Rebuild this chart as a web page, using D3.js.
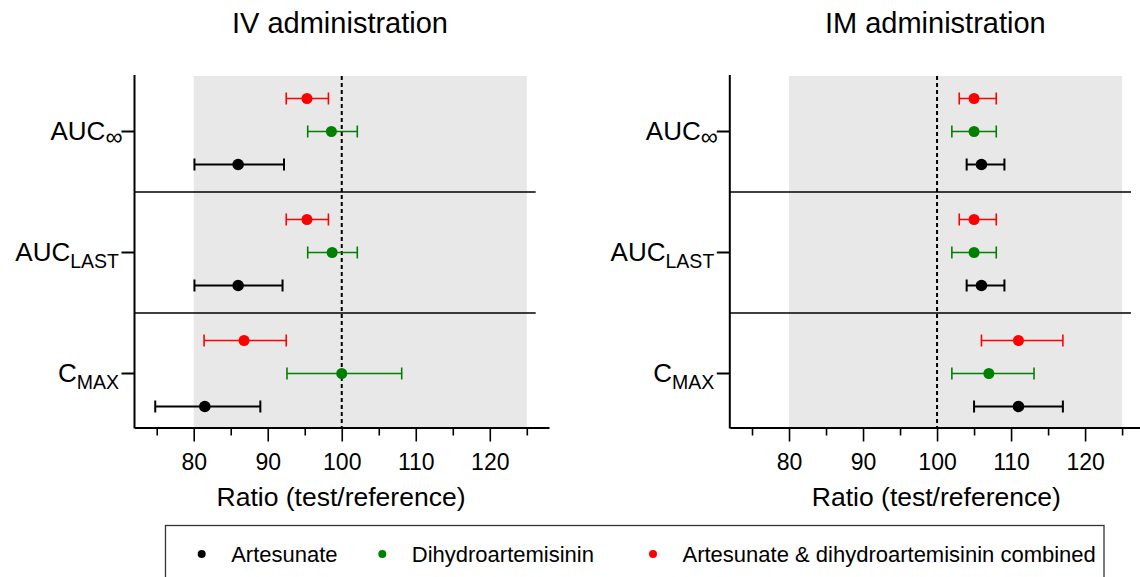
<!doctype html>
<html>
<body>
<style type="text/css">
    html,body{
        margin: 0;
        overflow: hidden;
        background: #fff;
    }
    svg text {
        font-family: "Liberation Sans", Arial, sans-serif;
        fill: #000;
    }
</style>
<script src="https://cdn.jsdelivr.net/npm/d3@7"></script>
<script type="text/javascript">
// parameters, top to bottom: [main text, subscript]
var params = ["AUCinf", "AUClast", "Cmax"];
var paramLabels = [["AUC", "\u221E"], ["AUC", "LAST"], ["C", "MAX"]];

var series = ["Artesunate", "Dihydroartemisinin", "Artesunate & dihydroartemisinin combined"];
var seriesColors = ["#000000", "#008000", "#ff0000"];

// [estimate, lower, upper] per parameter (AUCinf, AUClast, Cmax)
var ivArtesunate = [[86.0, 80.1, 92.2], [86.0, 80.1, 92.0], [81.5, 74.8, 89.0]];
var ivDHA        = [[98.6, 95.4, 102.1], [98.7, 95.4, 102.1], [100.0, 92.6, 108.1]];
var ivCombined   = [[95.3, 92.5, 98.2], [95.3, 92.5, 98.2], [86.8, 81.4, 92.5]];

var imArtesunate = [[106.0, 104.0, 109.1], [106.0, 104.0, 109.1], [111.0, 105.0, 117.0]];
var imDHA        = [[105.0, 102.0, 108.0], [105.0, 102.0, 108.0], [107.0, 102.0, 113.1]];
var imCombined   = [[105.0, 103.0, 108.0], [105.0, 103.0, 108.0], [111.0, 106.0, 117.0]];

var majorTicks = [80, 90, 100, 110, 120];
var minorTicks = [75, 85, 95, 105, 115, 125];

(function(){
    var w = 1140, h = 577;

    var svg = d3.select("body").append("svg")
        .attr("width", w)
        .attr("height", h);

    function drawPanel(off, title, sets) {
        var g = svg.append("g").attr("transform", "translate(" + off + ",0)");

        var x = d3.scaleLinear().domain([72, 128]).range([134.5, 549]);
        var y = d3.scaleBand().domain(params).range([71, 434]);
        // combined on top, artesunate at the bottom
        var row = d3.scalePoint().domain(series.slice().reverse()).range([-33, 33]);
        var axisY = 427.5;

        // equivalence band 80-125
        g.append("rect")
            .attr("x", x(80))
            .attr("y", 76)
            .attr("width", x(125) - x(80))
            .attr("height", axisY - 76)
            .attr("fill", "#e8e8e8");

        // separators between parameters
        g.selectAll("line.sep")
            .data(params.slice(1))
            .enter().append("line")
            .attr("class", "sep")
            .attr("x1", x.range()[0])
            .attr("x2", x(126.2))
            .attr("y1", function(d){return y(d)})
            .attr("y2", function(d){return y(d)})
            .attr("stroke", "#000")
            .attr("stroke-width", 1.6);

        // reference line at 100
        g.append("line")
            .attr("x1", x(100)).attr("x2", x(100))
            .attr("y1", 76).attr("y2", axisY)
            .attr("stroke", "#000")
            .attr("stroke-width", 2)
            .attr("stroke-dasharray", "4,3");

        // x axis
        var xAxis = g.append("g")
            .attr("transform", "translate(0," + axisY + ")")
            .call(d3.axisBottom(x).tickValues(majorTicks).tickSize(14).tickSizeOuter(0).tickPadding(12));
        xAxis.select(".domain").attr("stroke-width", 2);
        xAxis.selectAll(".tick line").attr("stroke-width", 1.6);
        xAxis.selectAll(".tick text")
            .attr("font-size", 23)
            .attr("font-family", "Liberation Sans, Arial, sans-serif");

        var xMinor = g.append("g")
            .attr("transform", "translate(0," + axisY + ")")
            .call(d3.axisBottom(x).tickValues(minorTicks).tickSize(8).tickFormat(""));
        xMinor.select(".domain").remove();
        xMinor.selectAll(".tick line").attr("stroke-width", 1.6);

        g.append("text")
            .attr("x", 341)
            .attr("y", 506)
            .attr("text-anchor", "middle")
            .attr("font-size", 26.5)
            .text("Ratio (test/reference)");

        // y axis
        var yAxis = g.append("g")
            .attr("transform", "translate(" + x.range()[0] + ",0)")
            .call(d3.axisLeft(y).tickSize(13).tickFormat(""));
        yAxis.select(".domain").remove();
        yAxis.selectAll(".tick line").attr("stroke-width", 2);
        g.append("line")
            .attr("x1", x.range()[0]).attr("x2", x.range()[0])
            .attr("y1", 75).attr("y2", axisY + 1)
            .attr("stroke", "#000")
            .attr("stroke-width", 2);

        var lab = g.selectAll("text.plab")
            .data(params)
            .enter().append("text")
            .attr("class", "plab")
            .attr("x", function(d, i){return x.range()[0] - (i === 0 ? 12 : 15.5)})
            .attr("y", function(d){return y(d) + y.bandwidth()/2 + 8.5})
            .attr("text-anchor", "end");
        lab.append("tspan")
            .attr("font-size", 26)
            .text(function(d, i){return paramLabels[i][0]});
        lab.append("tspan")
            .attr("font-size", function(d, i){return i === 0 ? 24 : 19.5})
            .attr("dy", function(d, i){return i === 0 ? 5 : 6.5})
            .text(function(d, i){return paramLabels[i][1]});

        // error bars and points
        sets.forEach(function(vals, si){
            var s = series[si], col = seriesColors[si];
            var sw = si === 0 ? 2 : 1.6;
            var pts = vals.map(function(v, pi){
                return {p: params[pi], est: v[0], lo: v[1], hi: v[2]};
            });
            var cy = function(d){return y(d.p) + y.bandwidth()/2 + row(s)};
            var eg = g.append("g");
            eg.selectAll("line.bar").data(pts).enter().append("line")
                .attr("x1", function(d){return x(d.lo)})
                .attr("x2", function(d){return x(d.hi)})
                .attr("y1", cy).attr("y2", cy)
                .attr("stroke", col).attr("stroke-width", sw);
            ["lo", "hi"].forEach(function(k){
                eg.selectAll("line.cap" + k).data(pts).enter().append("line")
                    .attr("x1", function(d){return x(d[k])})
                    .attr("x2", function(d){return x(d[k])})
                    .attr("y1", function(d){return cy(d) - 6})
                    .attr("y2", function(d){return cy(d) + 6})
                    .attr("stroke", col).attr("stroke-width", sw);
            });
            eg.selectAll("circle").data(pts).enter().append("circle")
                .attr("cx", function(d){return x(d.est)})
                .attr("cy", cy)
                .attr("r", si === 0 ? 5.8 : 5.5)
                .attr("fill", col);
        });

        g.append("text")
            .attr("x", 340)
            .attr("y", 33)
            .attr("text-anchor", "middle")
            .attr("font-size", 29)
            .text(title);
    }

    drawPanel(0, "IV administration", [ivArtesunate, ivDHA, ivCombined]);
    drawPanel(595.3, "IM administration", [imArtesunate, imDHA, imCombined]);

    // legend
    var legX = [201.7, 382.3, 653];
    svg.append("rect")
        .attr("x", 165.5).attr("y", 525.5)
        .attr("width", 1104 - 165.5).attr("height", 80)
        .attr("fill", "none")
        .attr("stroke", "#333")
        .attr("stroke-width", 1.3);
    var leg = svg.selectAll("g.leg")
        .data(series)
        .enter().append("g")
        .attr("class", "leg")
        .attr("transform", function(d, i){return "translate(" + legX[i] + ",554)"});
    leg.append("circle")
        .attr("r", 4)
        .attr("fill", function(d, i){return seriesColors[i]});
    leg.append("text")
        .attr("x", 29.5)
        .attr("y", 8)
        .attr("font-size", 22)
        .text(function(d){return d});
})();
</script>
</body>
</html>
